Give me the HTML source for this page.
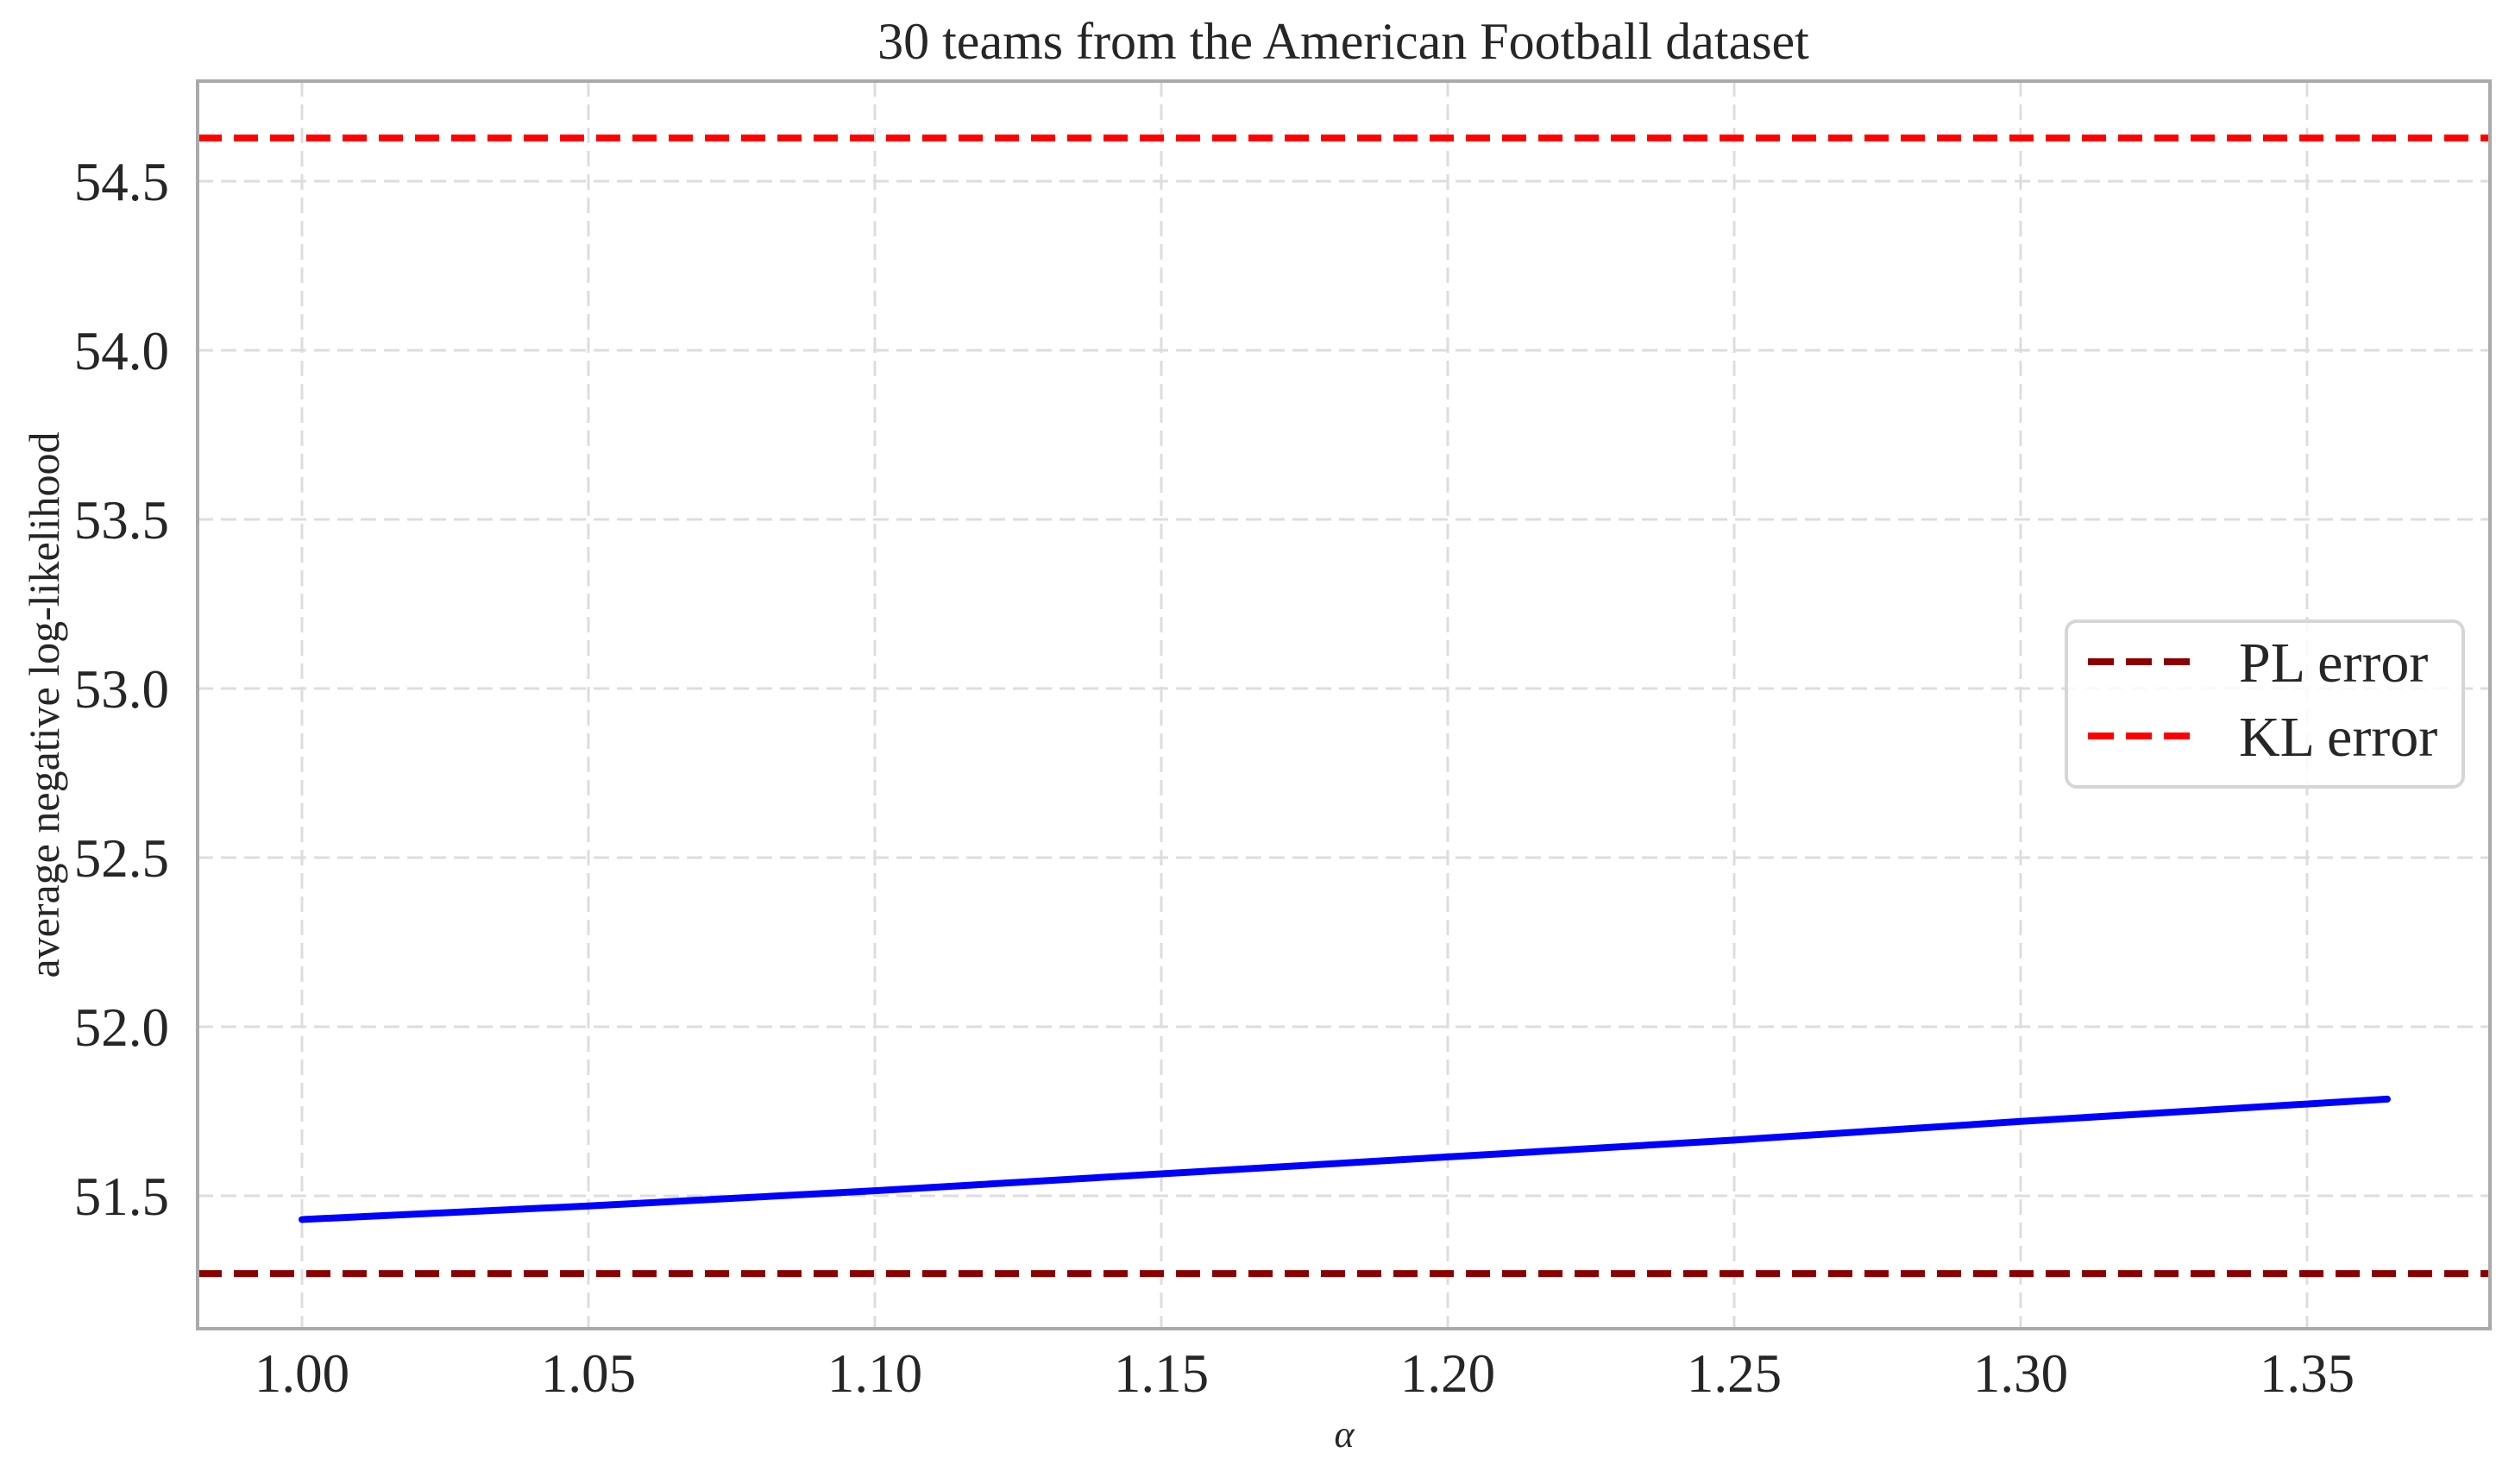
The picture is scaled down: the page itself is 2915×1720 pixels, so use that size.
<!DOCTYPE html>
<html><head><meta charset="utf-8"><style>
html,body{margin:0;padding:0;background:#fff;}
svg text{font-family:"Liberation Serif",serif;fill:#262626;}
</style></head><body>
<svg id="chart" width="2915" height="1715" viewBox="0 0 2915 1715" xmlns="http://www.w3.org/2000/svg">
<rect width="2915" height="1715" fill="#fff"/>
<g id="grid"></g>
<g id="marks"></g>
<rect x="229" y="94" width="2657" height="1446" fill="none" stroke="#aaaaaa" stroke-width="4"/>
<g id="ticks"></g>
<text x="1557" y="68" font-size="60" text-anchor="middle">30 teams from the American Football dataset</text>
<text x="1558" y="1677" font-size="44" font-style="italic" text-anchor="middle">α</text>
<text transform="translate(68,817) rotate(-90)" font-size="50" text-anchor="middle">average negative log-likelihood</text>
<g>
<rect x="2395" y="720" width="460" height="192" rx="12" fill="#fff" fill-opacity="0.85" stroke="#d6d6d6" stroke-width="4"/>
<line x1="2420" y1="767" x2="2539" y2="767" stroke="#8b0000" stroke-width="8" stroke-dasharray="30,14"/>
<text x="2595" y="790" font-size="66">PL error</text>
<line x1="2420" y1="853" x2="2539" y2="853" stroke="#ff0000" stroke-width="8" stroke-dasharray="30,14"/>
<text x="2595" y="876" font-size="66">KL error</text>
</g>
</svg>
<script>
const alphaValues = [1.00, 1.05, 1.10, 1.15, 1.20, 1.25, 1.30, 1.364];
const nllValues = [51.43, 51.47, 51.515, 51.565, 51.615, 51.665, 51.72, 51.786];
const plError = 51.27;
const klError = 54.628;
const xTicks = [1.00, 1.05, 1.10, 1.15, 1.20, 1.25, 1.30, 1.35];
const xTickLabels = ["1.00","1.05","1.10","1.15","1.20","1.25","1.30","1.35"];
const yTicks = [51.5, 52.0, 52.5, 53.0, 53.5, 54.0, 54.5];
const yTickLabels = ["51.5","52.0","52.5","53.0","53.5","54.0","54.5"];

const L=229,R=2886,T=94,B=1540;
const xs = v => 350 + (v-1.0)*6640;
const ys = v => 406 + (54.0-v)*392;
const NS="http://www.w3.org/2000/svg";
function mk(tag,attrs,parent){const e=document.createElementNS(NS,tag);for(const k in attrs)e.setAttribute(k,attrs[k]);parent.appendChild(e);return e;}
const grid=document.getElementById('grid'),marks=document.getElementById('marks'),ticks=document.getElementById('ticks');
xTicks.forEach((t,i)=>{
  const g=mk('line',{x1:xs(t),x2:xs(t),y1:T,y2:B,stroke:'#dddddd','stroke-width':3,'stroke-dasharray':'18,9'},grid);
  
  
  const tx=mk('text',{x:xs(t),y:1613,'font-size':63,'text-anchor':'middle'},ticks);
  tx.textContent=xTickLabels[i];
  
  
});
yTicks.forEach((t,i)=>{
  const g=mk('line',{x1:L,x2:R,y1:ys(t),y2:ys(t),stroke:'#dddddd','stroke-width':3,'stroke-dasharray':'18,9'},grid);
  
  
  const tx=mk('text',{x:196,y:ys(t)+22,'font-size':63,'text-anchor':'end'},ticks);
  tx.textContent=yTickLabels[i];
  
  
});
const pl=mk('line',{x1:L,x2:R,y1:ys(plError),y2:ys(plError),stroke:'#8b0000','stroke-width':8,'stroke-dasharray':'28,14'},marks);


const kl=mk('line',{x1:L,x2:R,y1:ys(klError),y2:ys(klError),stroke:'#ff0000','stroke-width':8,'stroke-dasharray':'28,14'},marks);


const pts=alphaValues.map((a,i)=>xs(a)+','+ys(nllValues[i])).join(' ');
const ln=mk('polyline',{points:pts,fill:'none',stroke:'#0000ff','stroke-width':8,'stroke-linecap':'round','stroke-linejoin':'round'},marks);


</script>
</body></html>
